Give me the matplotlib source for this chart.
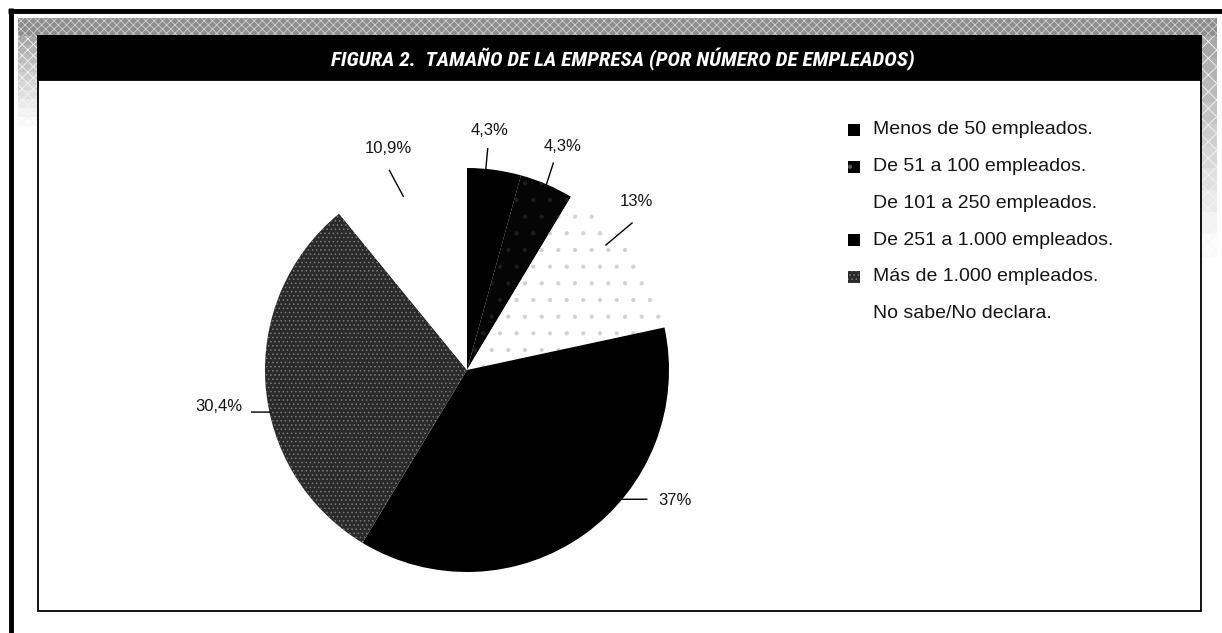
import numpy as np
import matplotlib
matplotlib.use("Agg")
import matplotlib.pyplot as plt
from matplotlib.patches import Rectangle
from matplotlib import font_manager as fm

# data
categories = ["Menos de 50 empleados.", "De 51 a 100 empleados.",
              "De 101 a 250 empleados.", "De 251 a 1.000 empleados.",
              "Más de 1.000 empleados.", "No sabe/No declara."]
shares = [4.3, 4.3, 13.0, 37.0, 30.4, 10.9]
share_labels = ["4,3%", "4,3%", "13%", "37%", "30,4%", "10,9%"]
title = "FIGURA 2.  TAMAÑO DE LA EMPRESA (POR NÚMERO DE EMPLEADOS)"

# styles per slice (fill, hatch, hatch colour)
fills = ["#000000", "#050505", "#ffffff", "#000000", "#2a2a2a", "#ffffff"]
hatches = [None, ".", ".", None, "....", None]
hatch_cols = ["#000000", "#1e1e1e", "#d2d2d2", "#000000", "#7a7a7a", "#ffffff"]
key_hatch_cols = ["#000000", "#5a5a5a", "#ffffff", "#000000", "#7a7a7a", "#ffffff"]
show_key = [True, True, False, True, True, False]

# label layout: angle shifts from slice middle (deg) for the two leader ends and text
lead_shift = [(-2.4, -2.4), (0.0, -0.6), (-6.4, -6.1), (-14.6, -18.8), (-8.0, -7.0), (-0.5, -1.6)]
lead_r = [(0.99, 1.10), (0.985, 1.11), (0.925, 1.094), (0.998, 1.096), (0.998, 1.086), (0.916, 1.06)]
text_shift = [-2.4, -0.2, -9.1, -22.4, -4.4, 0.0]
text_r = [1.19, 1.205, 1.183, 1.214, 1.242, 1.163]

W, H = 1222, 633
cx, cy, R = 467, 370, 202

plt.rcParams["hatch.linewidth"] = 0.6
names = {f.name for f in fm.fontManager.ttflist}
title_font = "Roboto"
for cand in ["Liberation Sans Narrow", "DejaVu Sans Condensed", "Roboto Condensed", "Arial Narrow"]:
    if cand in names:
        title_font = cand
        break
body_font = "Liberation Sans"

fig = plt.figure(figsize=(W / 100, H / 100), dpi=100)
fig.patch.set_facecolor("white")

# frame drawn in pixel coordinates
bg = fig.add_axes([0, 0, 1, 1])
bg.set_xlim(0, W)
bg.set_ylim(H, 0)
bg.axis("off")

bg.add_patch(Rectangle((18, 18), 1199, 20, facecolor="#8e8e8e", hatch="xxxx",
                       edgecolor="#d0d0d0", linewidth=0))
# side strips fade out downwards
steps = 10
for k in range(steps):
    g = 0.66 + 0.33 * k / (steps - 1)
    shade = (g, g, g)
    bg.add_patch(Rectangle((18, 36 + k * 9), 20, 9.5, facecolor=shade, hatch="xxx",
                           edgecolor="#f4f4f4", linewidth=0))
    bg.add_patch(Rectangle((1201, 36 + k * 22), 16, 22.5, facecolor=shade, hatch="xx",
                           edgecolor="#f6f6f6", linewidth=0))
bg.add_patch(Rectangle((37, 35), 1165, 46, facecolor="black", linewidth=0))
bg.add_patch(Rectangle((38, 80), 1163, 531, facecolor="white",
                       edgecolor="black", linewidth=1.3))
bg.plot([8, W], [10.5, 10.5], color="black", linewidth=3.5, solid_capstyle="butt")
bg.plot([10.5, 10.5], [8, H], color="black", linewidth=3.5, solid_capstyle="butt")

bg.text(623, 59, title, color="white", fontsize=15.4, fontweight="bold",
        fontstyle="italic", family=title_font, ha="center", va="center")

# legend
for i, (name, col) in enumerate(zip(categories, fills)):
    y = 130 + i * 36.7
    if show_key[i]:
        bg.add_patch(Rectangle((848, y - 6), 12, 12, facecolor=col,
                               hatch=hatches[i], edgecolor=key_hatch_cols[i], linewidth=0))
    bg.text(873, y, name, fontsize=14, family=body_font, ha="left", va="center",
            color="#151515")

# pie in units of its radius
ax = fig.add_axes([0, 0, 1, 1])
wedges, _ = ax.pie(shares, colors=fills, startangle=90, counterclock=False,
                   radius=1.0, wedgeprops=dict(linewidth=0))
for w, hp, hc in zip(wedges, hatches, hatch_cols):
    if hp:
        w.set_hatch(hp)
        w.set_edgecolor(hc)
ax.set_aspect("auto")
ax.set_xlim(-cx / R, (W - cx) / R)
ax.set_ylim(-(H - cy) / R, cy / R)
ax.axis("off")

total = sum(shares)
cum = np.cumsum([0] + shares[:-1])
mids = [(c + s / 2) / total * 360 for c, s in zip(cum, shares)]


def polar(theta, r):
    t = np.radians(theta)
    return r * np.sin(t), r * np.cos(t)


for i, lab in enumerate(share_labels):
    x0, y0 = polar(mids[i] + lead_shift[i][0], lead_r[i][0])
    x1, y1 = polar(mids[i] + lead_shift[i][1], lead_r[i][1])
    ax.plot([x0, x1], [y0, y1], color="black", linewidth=1.0)
    tx, ty = polar(mids[i] + text_shift[i], text_r[i])
    ax.text(tx, ty, lab, fontsize=12, family=body_font, ha="center", va="center",
            color="#151515")

fig.savefig("out.png", dpi=100)
